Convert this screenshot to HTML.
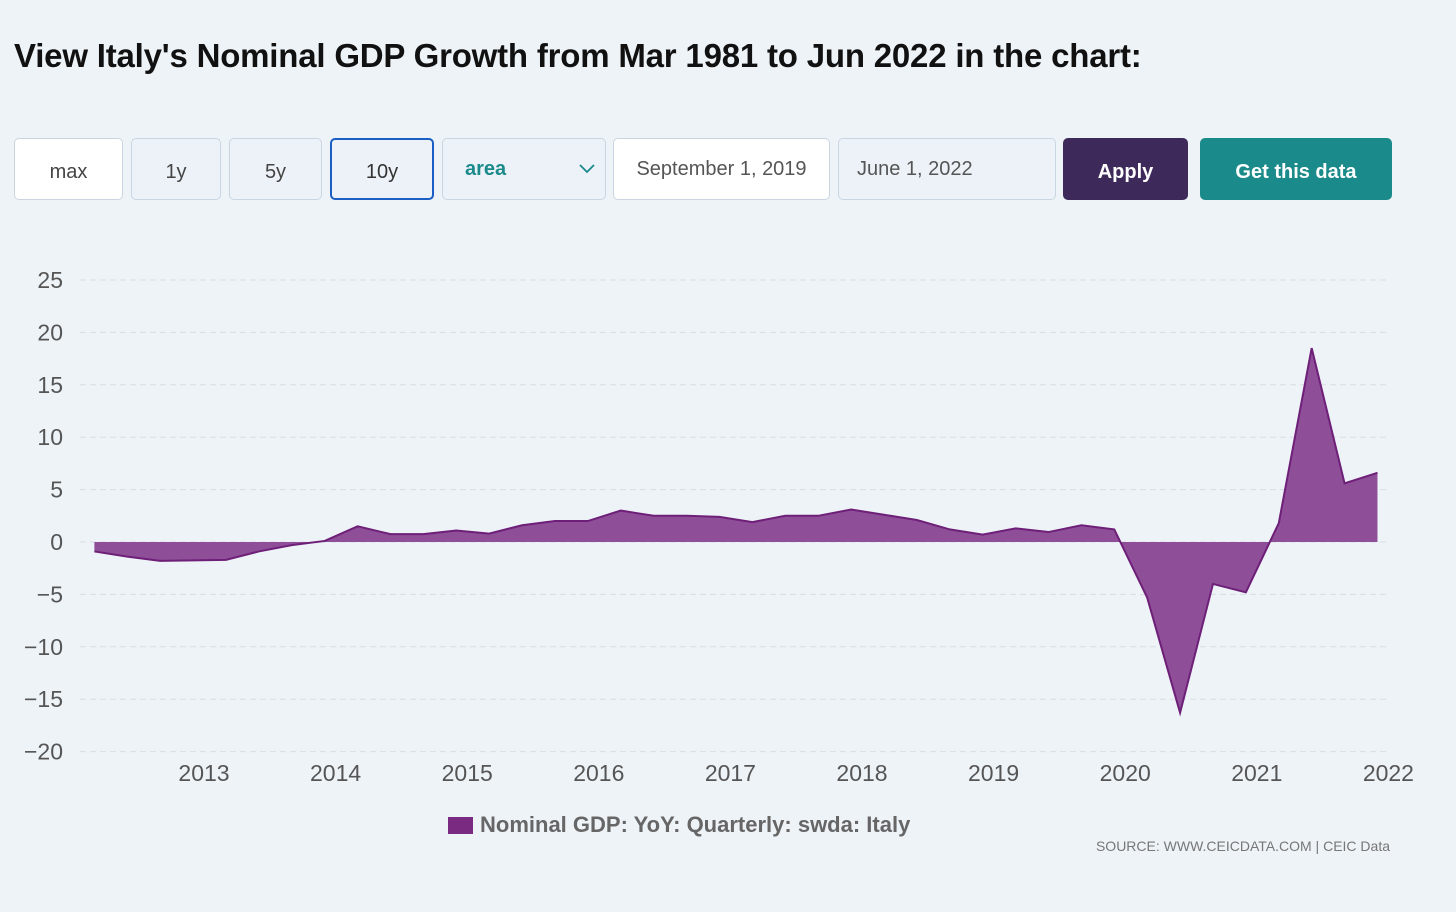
<!DOCTYPE html>
<html><head><meta charset="utf-8">
<style>
body{margin:0;width:1456px;height:912px;background:#eef3f8;font-family:"Liberation Sans",sans-serif;position:relative;overflow:hidden}
h1{position:absolute;left:14px;top:37px;margin:0;font-size:33px;font-weight:bold;color:#111;letter-spacing:-0.2px}
.b{position:absolute;top:138px;height:62px;box-sizing:border-box;border:1.5px solid #c9d6e2;border-radius:5px;background:#edf2f8;color:#444;font-size:20px;display:flex;align-items:center;justify-content:center;padding-top:6px}
</style></head><body>
<h1>View Italy's Nominal GDP Growth from Mar 1981 to Jun 2022 in the chart:</h1>
<div class="b" style="left:14px;width:109px;background:#fff">max</div>
<div class="b" style="left:131px;width:90px">1y</div>
<div class="b" style="left:229px;width:93px">5y</div>
<div class="b" style="left:330px;width:104px;border:2.5px solid #1c5fc4;color:#333">10y</div>
<div class="b" style="left:442px;width:164px;justify-content:space-between;padding:0 10px 0 22px;color:#1a8a8a;font-weight:bold">area<svg width="16" height="10"><polyline points="1,1 8,8 15,1" fill="none" stroke="#1a8a8a" stroke-width="1.8"/></svg></div>
<div class="b" style="left:613px;width:217px;background:#fff;color:#555;padding-top:0">September 1, 2019</div>
<div class="b" style="left:838px;width:218px;justify-content:flex-start;padding-left:18px;padding-top:0;color:#555">June 1, 2022</div>
<div class="b" style="left:1063px;width:125px;background:#3e2a5a;border-color:#3e2a5a;color:#fff;font-weight:bold">Apply</div>
<div class="b" style="left:1200px;width:192px;background:#1a8a8a;border-color:#1a8a8a;color:#fff;font-weight:bold">Get this data</div>
<svg id="c" width="1456" height="912" style="position:absolute;left:0;top:0"></svg>
<div style="position:absolute;left:448px;top:812px;font-size:22px;font-weight:bold;color:#666;display:flex;align-items:center"><span style="display:inline-block;width:25px;height:17px;background:#7b2a82;margin-right:7px"></span>Nominal GDP: YoY: Quarterly: swda: Italy</div>
<div style="position:absolute;right:66px;top:838px;font-size:14px;color:#777">SOURCE: WWW.CEICDATA.COM | CEIC Data</div>
<script>
const startYear=2012.167;
const values=[-0.9,-1.4,-1.8,-1.75,-1.7,-0.9,-0.3,0.1,1.5,0.75,0.75,1.1,0.8,1.6,2.0,2.0,3.0,2.5,2.5,2.4,1.9,2.5,2.5,3.1,2.6,2.1,1.2,0.7,1.3,0.95,1.6,1.2,-5.3,-16.3,-4.0,-4.8,1.8,18.5,5.6,6.6];
const yTicks=[25,20,15,10,5,0,-5,-10,-15,-20];
const xTicks=[2013,2014,2015,2016,2017,2018,2019,2020,2021,2022];
const NS="http://www.w3.org/2000/svg";
const svg=document.getElementById('c');
const X=t=>204+(t-2013)*131.6;
const Y=v=>542-v*10.48;
function mk(tag,a){const e=document.createElementNS(NS,tag);for(const k in a)e.setAttribute(k,a[k]);svg.appendChild(e);return e;}
yTicks.forEach(v=>{
 const l=mk('line',{x1:80,x2:1390,y1:Y(v),y2:Y(v),stroke:'#d8dee6','stroke-dasharray':'6,4'});
 
 
 const t=mk('text',{x:63,y:Y(v)+8,'text-anchor':'end','font-size':23,fill:'#555','font-family':'Liberation Sans, sans-serif'});
 t.textContent=v<0?'\u2212'+(-v):v;
 
 
});
xTicks.forEach(y=>{
 const t=mk('text',{x:X(y),y:781,'text-anchor':'middle','font-size':23,fill:'#555','font-family':'Liberation Sans, sans-serif'});
 t.textContent=y;
 
 
});
const pts=values.map((v,i)=>[X(startYear+i*0.25),Y(v)]);
let d='M'+pts[0][0]+','+Y(0)+pts.map(p=>' L'+p[0]+','+p[1]).join('')+' L'+pts[pts.length-1][0]+','+Y(0)+'Z';
const a=mk('path',{d:d,fill:'#8e4f98',stroke:'none'});


const ln=mk('polyline',{points:pts.map(p=>p.join(',')).join(' '),fill:'none',stroke:'#6e1f78','stroke-width':2});


</script>
</body></html>
